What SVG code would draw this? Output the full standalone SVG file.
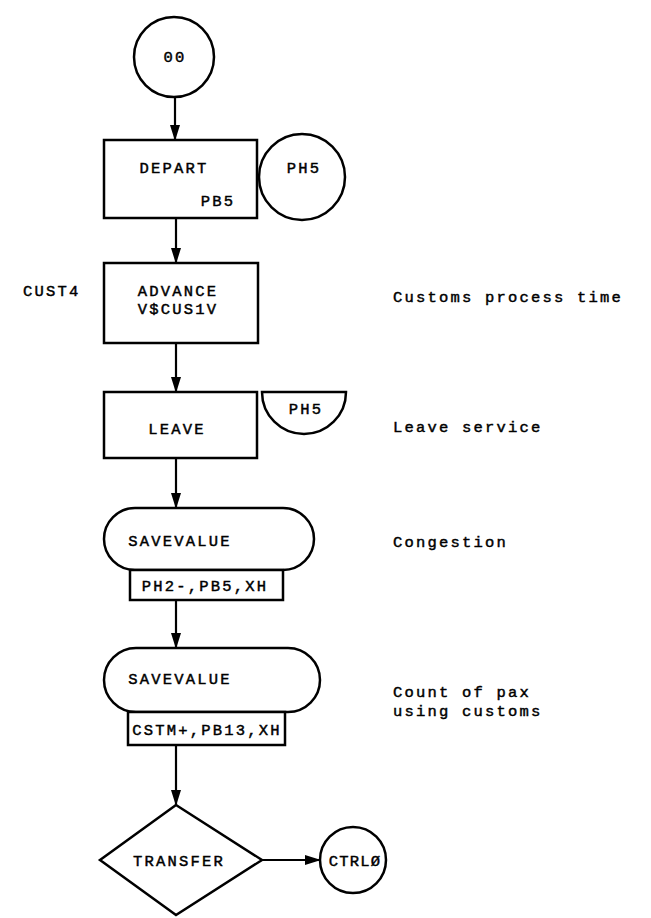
<svg xmlns="http://www.w3.org/2000/svg" width="651" height="918" viewBox="0 0 651 918">
<style>
.s{fill:#fff;stroke:#000;stroke-width:2.5}
.t{font-family:"Liberation Mono","DejaVu Sans Mono",monospace;font-size:15.5px;letter-spacing:2.2px;fill:#000;stroke:#000;stroke-width:0.45}
.c{text-anchor:middle}
.e{stroke:#000;stroke-width:2.2;fill:none}
</style>
<defs>
<marker id="ah" markerWidth="16" markerHeight="10" refX="15" refY="5" orient="auto" markerUnits="userSpaceOnUse" viewBox="0 0 16 10">
<path d="M0,0 L16,5 L0,10 Z" fill="#000"/>
</marker>
</defs>
<rect width="651" height="918" fill="#fff"/>
<g id="connectors">
<line class="e" x1="175" y1="97" x2="175" y2="140" marker-end="url(#ah)"/>
<line class="e" x1="176" y1="218" x2="176" y2="263" marker-end="url(#ah)"/>
<line class="e" x1="176" y1="343" x2="176" y2="392" marker-end="url(#ah)"/>
<line class="e" x1="176" y1="458" x2="176" y2="508" marker-end="url(#ah)"/>
<line class="e" x1="176" y1="600" x2="176" y2="648" marker-end="url(#ah)"/>
<line class="e" x1="176" y1="745" x2="176" y2="805" marker-end="url(#ah)"/>
<line class="e" x1="262" y1="860" x2="320" y2="860" marker-end="url(#ah)"/>
</g>
<g id="n00">
<circle class="s" cx="174" cy="57" r="40"/>
<text class="t c" x="175" y="62">00</text>
</g>
<g id="depart">
<rect class="s" x="104" y="140" width="153" height="78"/>
<text class="t c" x="174" y="173">DEPART</text>
<text class="t c" x="218" y="206">PB5</text>
</g>
<g id="ph5">
<circle class="s" cx="302" cy="177" r="43"/>
<text class="t c" x="304" y="173">PH5</text>
</g>
<g id="advance">
<rect class="s" x="104" y="263" width="154" height="80"/>
<text class="t c" x="178" y="296">ADVANCE</text>
<text class="t c" x="178" y="314">V$CUS1V</text>
<text class="t" x="23" y="296">CUST4</text>
</g>
<g id="leave">
<rect class="s" x="104" y="392" width="153" height="66"/>
<text class="t c" x="177" y="434">LEAVE</text>
<path class="s" d="M262,392 A42,42 0 0 0 346,392 Z"/>
<text class="t c" x="306" y="414">PH5</text>
</g>
<g id="sv1">
<rect class="s" x="104" y="508" width="210" height="62" rx="31" ry="31"/>
<rect class="s" x="130" y="570" width="153" height="30"/>
<text class="t c" x="180" y="546">SAVEVALUE</text>
<text class="t c" x="205" y="591">PH2-,PB5,XH</text>
</g>
<g id="sv2">
<rect class="s" x="104" y="648" width="216" height="64" rx="32" ry="32"/>
<rect class="s" x="128" y="712" width="157" height="33"/>
<text class="t c" x="180" y="684">SAVEVALUE</text>
<text class="t c" x="207" y="735">CSTM+,PB13,XH</text>
</g>
<g id="transfer">
<path class="s" d="M176,805 L262,860 L176,915 L100,860 Z"/>
<text class="t c" x="179" y="866">TRANSFER</text>
</g>
<g id="ctrl">
<circle class="s" cx="353" cy="860" r="33"/>
<text class="t c" x="355" y="866" style="letter-spacing:1.2px">CTRLØ</text>
</g>
<g id="comments">
<text class="t" x="393" y="302">Customs process time</text>
<text class="t" x="393" y="432">Leave service</text>
<text class="t" x="393" y="547">Congestion</text>
<text class="t" x="393" y="697">Count of pax</text>
<text class="t" x="393" y="716">using customs</text>
</g>
</svg>
